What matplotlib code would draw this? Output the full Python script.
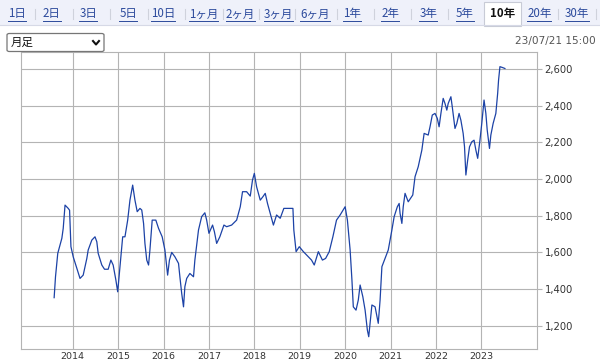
import matplotlib
matplotlib.use('Agg')
import matplotlib.pyplot as plt
from matplotlib.lines import Line2D
from matplotlib.patches import Rectangle, FancyBboxPatch
from matplotlib.ticker import FuncFormatter

# データ (月足, 2013/07 - 2023/07)
t = [2013.59, 2013.62, 2013.67, 2013.72, 2013.76, 2013.79, 2013.83, 2013.90, 2013.93, 2013.96,
     2014.01, 2014.09, 2014.16, 2014.23, 2014.31, 2014.34, 2014.42, 2014.49, 2014.53, 2014.56,
     2014.64, 2014.70, 2014.78, 2014.84, 2014.89, 2014.95, 2014.99, 2015.02, 2015.06, 2015.10,
     2015.15, 2015.21, 2015.26, 2015.32, 2015.37, 2015.42, 2015.48, 2015.52, 2015.56, 2015.59,
     2015.63, 2015.67, 2015.70, 2015.75, 2015.83, 2015.89, 2015.97, 2016.03, 2016.09, 2016.13,
     2016.18, 2016.25, 2016.33, 2016.36, 2016.40, 2016.44, 2016.47, 2016.51, 2016.58, 2016.66,
     2016.69, 2016.77, 2016.84, 2016.91, 2016.95, 2017.00, 2017.08, 2017.12, 2017.17, 2017.24,
     2017.33, 2017.39, 2017.50, 2017.61, 2017.69, 2017.74, 2017.83, 2017.91, 2017.96, 2018.00,
     2018.05, 2018.13, 2018.19, 2018.24, 2018.29, 2018.35, 2018.42, 2018.49, 2018.57, 2018.65,
     2018.85, 2018.87, 2018.92, 2018.99, 2019.08, 2019.19, 2019.26, 2019.32, 2019.41, 2019.50,
     2019.57, 2019.65, 2019.73, 2019.81, 2019.89, 2020.00, 2020.05, 2020.11, 2020.15, 2020.18,
     2020.24, 2020.29, 2020.33, 2020.39, 2020.44, 2020.49, 2020.52, 2020.55, 2020.59, 2020.66,
     2020.73, 2020.77, 2020.81, 2020.88, 2020.95, 2021.03, 2021.08, 2021.15, 2021.19, 2021.21,
     2021.25, 2021.28, 2021.32, 2021.39, 2021.49, 2021.54, 2021.61, 2021.69, 2021.74, 2021.83,
     2021.87, 2021.92, 2021.98, 2022.03, 2022.07, 2022.11, 2022.16, 2022.20, 2022.24, 2022.27,
     2022.33, 2022.36, 2022.42, 2022.46, 2022.51, 2022.55, 2022.60, 2022.63, 2022.66, 2022.70,
     2022.74, 2022.79, 2022.84, 2022.88, 2022.92, 2022.97, 2023.01, 2023.06, 2023.10, 2023.13,
     2023.18, 2023.21, 2023.26, 2023.32, 2023.36, 2023.38, 2023.41, 2023.47, 2023.52]
price = [1353, 1467, 1595, 1640, 1677, 1731, 1858, 1840, 1830, 1631,
         1576, 1513, 1458, 1476, 1567, 1613, 1667, 1685, 1658, 1595,
         1531, 1508, 1508, 1558, 1531, 1449, 1385, 1467, 1576, 1685,
         1685, 1776, 1885, 1967, 1885, 1822, 1840, 1831, 1758, 1649,
         1558, 1531, 1613, 1776, 1776, 1731, 1685, 1613, 1476, 1558,
         1600, 1576, 1540, 1467, 1376, 1303, 1413, 1458, 1485, 1467,
         1558, 1722, 1795, 1816, 1776, 1704, 1749, 1713, 1649, 1685,
         1749, 1740, 1749, 1776, 1849, 1931, 1931, 1907, 1995, 2031,
         1958, 1885, 1904, 1922, 1867, 1813, 1749, 1804, 1786, 1840,
         1840, 1722, 1604, 1631, 1604, 1576, 1558, 1531, 1604, 1558,
         1567, 1604, 1685, 1776, 1804, 1849, 1776, 1613, 1449, 1303,
         1285, 1340, 1422, 1358, 1285, 1176, 1140, 1213, 1313, 1303,
         1213, 1340, 1522, 1567, 1613, 1722, 1795, 1849, 1867, 1813,
         1758, 1849, 1922, 1876, 1913, 2013, 2067, 2158, 2249, 2240,
         2285, 2349, 2358, 2331, 2285, 2358, 2440, 2412, 2376, 2412,
         2449, 2394, 2276, 2303, 2358, 2321, 2249, 2176, 2022, 2104,
         2176, 2203, 2212, 2158, 2113, 2212, 2303, 2431, 2358, 2267,
         2167, 2240, 2303, 2358, 2467, 2540, 2613, 2608, 2603]

years = list(range(2014, 2024))
yticks = list(range(1200, 2601, 200))
tabs = ['1日', '2日', '3日', '5日', '10日', '1ヶ月', '2ヶ月', '3ヶ月',
        '6ヶ月', '1年', '2年', '3年', '5年', '10年', '20年', '30年']
selected = '10年'
timestamp = '23/07/21 15:00'

W, H = 600, 363
JP = ['Noto Sans CJK JP', 'DejaVu Sans']
GRID = '#b4b4b4'
LINK = '#2c4a9c'

# タブの位置 (px)
tab_x = [16.7, 51.7, 88.3, 128.3, 163.3, 203.3, 240.7, 278.3,
         315, 351.7, 390, 428.3, 465, 502.7, 539.3, 576.7]
sep_x = [35, 72.7, 110, 147.7, 185, 222.7, 259.3, 295,
         336.7, 374, 411, 448.3, 558.3, 596]


def px(x, y):
    # ピクセル座標(左上原点) -> figure座標
    return x / W, 1 - y / H


fig = plt.figure(figsize=(W / 100, H / 100), dpi=100)

# タブバー
fig.add_artist(Rectangle(px(0, 25), 1, 25 / H, transform=fig.transFigure,
                         facecolor='#eff1fa', edgecolor='none'))
fig.add_artist(Line2D([0, 1], [px(0, 25)[1]] * 2, transform=fig.transFigure,
                      color='#d6d9e6', lw=0.8))
tab_texts = []
for lab, cx in zip(tabs, tab_x):
    if lab == selected:
        x0, y0 = px(484.3, 25.5)
        fig.add_artist(Rectangle((x0, y0), 36.7 / W, 24 / H, transform=fig.transFigure,
                                 facecolor='white', edgecolor='#c8cbd6', lw=0.8))
        fig.text(*px(cx, 14), lab, ha='center', va='center', fontsize=8.3,
                 family=JP, fontweight='bold', color='#111')
    else:
        tt = fig.text(*px(cx, 14), lab, ha='center', va='center', fontsize=8.3,
                      family=JP, color=LINK)
        tab_texts.append(tt)
for sx in sep_x:
    fig.add_artist(Line2D([px(sx, 0)[0]] * 2, [px(0, 9)[1], px(0, 19)[1]],
                          transform=fig.transFigure, color='#cfd2dc', lw=0.8))

# 月足 ドロップダウン
bx0, by0 = px(7, 51.5)
fig.add_artist(FancyBboxPatch((bx0, by0), 97 / W, 18 / H, transform=fig.transFigure,
                              boxstyle='round,pad=0,rounding_size=0.004',
                              facecolor='white', edgecolor='#767676', lw=0.9))
fig.text(*px(11, 42.5), '月足', ha='left', va='center', fontsize=8.3,
         family=JP, color='#111')
cv = [px(93, 41), px(96, 44.5), px(99, 41)]
fig.add_artist(Line2D([p[0] for p in cv], [p[1] for p in cv],
                      transform=fig.transFigure, color='#111', lw=1.5))

fig.text(*px(596, 41), timestamp, ha='right', va='center', fontsize=7.6, color='#555')

# チャート
left, right, top, bottom = 21, 536.7, 52, 349
ax = fig.add_axes([left / W, 1 - bottom / H, (right - left) / W, (bottom - top) / H])
ax.plot(t, price, color='#1c42a6', lw=0.9)
ax.set_xlim(2012.86, 2024.22)
ax.set_ylim(1073, 2693)
ax.set_xticks(years)
ax.set_xticklabels([str(y) for y in years])
ax.set_yticks(yticks)
ax.yaxis.set_major_formatter(FuncFormatter(lambda v, p: f'{int(v):,}'))
ax.yaxis.tick_right()
ax.grid(True, color=GRID, lw=0.8)
ax.set_axisbelow(True)
for s in ax.spines.values():
    s.set_color(GRID)
    s.set_linewidth(0.8)
ax.tick_params(axis='y', direction='out', length=3.6, width=0.8, color=GRID,
               labelsize=7.2, labelcolor='#333', pad=2)
ax.tick_params(axis='x', length=0, labelsize=6.8, labelcolor='#333', pad=2)

# リンクの下線
fig.canvas.draw()
r = fig.canvas.get_renderer()
for tt in tab_texts:
    bb = tt.get_window_extent(r)
    yy = (bb.y0 - 0.5) / H
    fig.add_artist(Line2D([bb.x0 / W, bb.x1 / W], [yy, yy], transform=fig.transFigure,
                          color=LINK, lw=0.7))

fig.savefig('out.png', dpi=100)
